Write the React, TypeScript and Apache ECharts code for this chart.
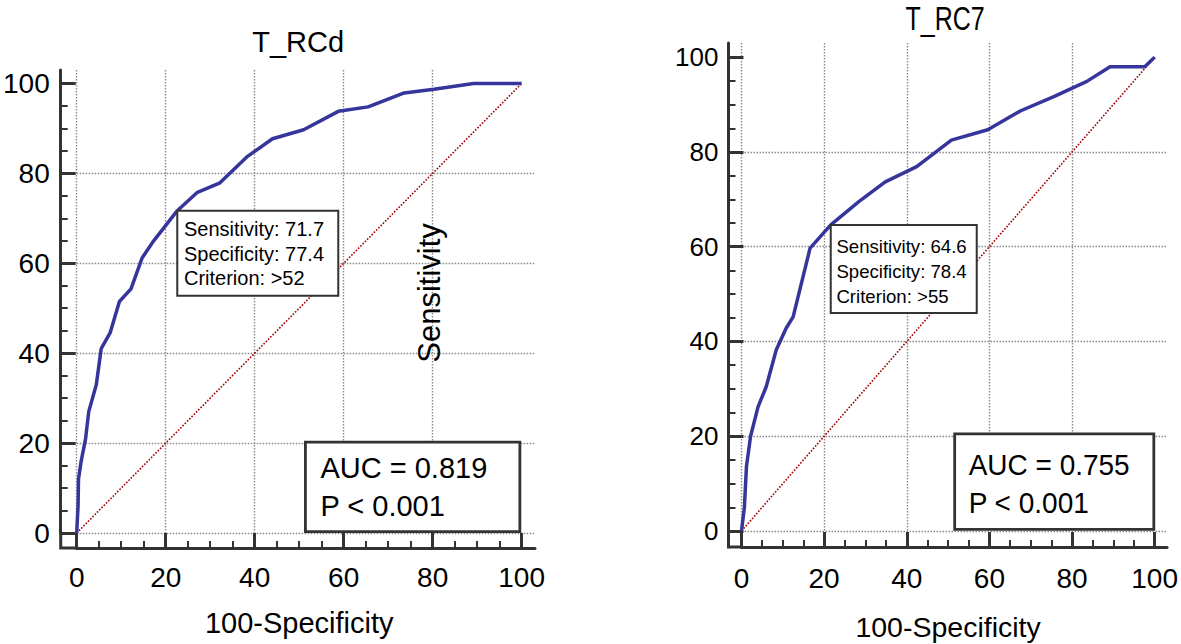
import React, { useEffect, useRef } from "react";
import * as echarts from "echarts";

// ---------- data ----------
const chartTitles = ["T_RCd", "T_RC7"];
const xAxisTitle = "100-Specificity";
const yAxisTitle = "Sensitivity";
const tickValues = [0, 20, 40, 60, 80, 100];

// ROC curve points: [100-Specificity, Sensitivity]
const rocRCd: [number, number][] = [
  [0, 0], [0.3, 6], [0.4, 12], [1, 16], [2, 21], [2.7, 27], [4.4, 33], [5.5, 41],
  [7.5, 44.5], [9.6, 51.5], [12.2, 54.3], [14.7, 61.2], [17.3, 65], [22.6, 71.7],
  [27, 75.7], [32.2, 77.9], [38.4, 83.8], [44, 87.7], [51, 89.7], [58.8, 93.8],
  [65.5, 94.8], [73.6, 97.9], [80.3, 98.7], [89.2, 100], [100, 100],
];
const rocRC7: [number, number][] = [
  [0, 0], [0.7, 5], [1.2, 13.6], [2.2, 20], [4, 26.2], [6, 30.5], [8.4, 38.2],
  [10.8, 42.8], [12.5, 45.2], [16.6, 59.7], [21.6, 64.6], [28.4, 69.5], [34.8, 73.7],
  [42.4, 76.9], [50.8, 82.5], [59.6, 84.7], [67.6, 88.7], [75.6, 91.7], [83.6, 94.9],
  [89.2, 98], [97.6, 98], [100, 100],
];
const diagonal: [number, number][] = [[0, 0], [100, 100]];

const sensitivity = [71.7, 64.6];
const specificity = [77.4, 78.4];
const criterion = [">52", ">55"];
const auc = ["0.819", "0.755"];
const pValue = ["< 0.001", "< 0.001"];

// ---------- layout / style ----------
const FONT = '"Liberation Sans", Arial, Helvetica, sans-serif';
const AXIS_MAX = 103;

const panels = [
  {
    left: 72, top: 70, width: 463, height: 463,
    yOffset: 16, xOffset: 15, yLabelSize: 28, xLabelSize: 28, yMargin: 11, xMargin: 15,
    titleSize: 29, titleScaleY: 1, titleY: 42.2, titleDx: -1,
    nameSize: 29, nameY: 623,
    sensW: 161, sensH: 85, sensPad: 6.7, sensBase: [25.6, 50, 74], sensSize: 20,
    aucX0: 51.4, aucX1: 99.6, aucY0: 0.3, aucY1: 20.2, aucPad: 15, aucBase: [35.7, 73.7], aucSize: 29, aucScaleY: 1,
  },
  {
    left: 741.5, top: 43, width: 428.5, height: 488,
    yOffset: 13, xOffset: 16, yLabelSize: 26, xLabelSize: 28, yMargin: 10, xMargin: 17,
    titleSize: 25, titleScaleY: 1.35, titleY: 18.4, titleDx: -3,
    nameSize: 28.5, nameY: 626.5,
    sensW: 146, sensH: 88, sensPad: 5.7, sensBase: [28.3, 53.3, 78.3], sensSize: 18.6,
    aucX0: 51.6, aucX1: 99.8, aucY0: 0.36, aucY1: 20.5, aucPad: 14, aucBase: [41, 79.3], aucSize: 28, aucScaleY: 1.08,
  },
];

function makeAxis(i: number, offset: number, labelSize: number, margin: number) {
  return {
    type: "value",
    gridIndex: i,
    min: 0,
    max: AXIS_MAX,
    interval: 20,
    offset,
    axisLine: { show: true, onZero: false, lineStyle: { color: "#333", width: 3 } },
    axisTick: {
      show: true, inside: true, length: 15, customValues: tickValues,
      lineStyle: { color: "#333", width: 3 },
    },
    minorTick: { show: true, splitNumber: 4, length: 7, lineStyle: { color: "#333", width: 2 } },
    axisLabel: {
      show: true, customValues: tickValues, fontSize: labelSize, color: "#000",
      fontFamily: FONT, margin,
    },
    splitLine: {
      show: true, showMaxLine: false,
      lineStyle: { color: "#8a8a8a", type: [1.5, 1.5], width: 1.4 },
    },
    minorSplitLine: { show: false },
  };
}

export default function App() {
  const ref = useRef<HTMLDivElement>(null);
  useEffect(() => {
    if (!ref.current) return;
    const chart = echarts.init(ref.current, null, { renderer: "svg" });
    const rocs = [rocRCd, rocRC7];
    const series: any[] = [];
    panels.forEach((_p, i) => {
      series.push({
        type: "line", xAxisIndex: i, yAxisIndex: i, data: diagonal, symbol: "none", silent: true,
        lineStyle: { color: "#a00000", width: 1.6, type: "dotted" }, z: 2,
      });
      series.push({
        type: "line", xAxisIndex: i, yAxisIndex: i, data: rocs[i], symbol: "none", silent: true,
        lineStyle: { color: "#35359c", width: 3.5 }, z: 3,
      });
    });
    chart.setOption({
      animation: false,
      backgroundColor: "#fff",
      grid: panels.map((p) => ({ left: p.left, top: p.top, width: p.width, height: p.height })),
      xAxis: panels.map((p, i) => ({ ...makeAxis(i, p.xOffset, p.xLabelSize, p.xMargin), position: "bottom" })),
      yAxis: panels.map((p, i) => ({ ...makeAxis(i, p.yOffset, p.yLabelSize, p.yMargin), position: "left" })),
      series,
    });

    const graphic: any[] = [];
    panels.forEach((p, i) => {
      const P = (x: number, y: number) => chart.convertToPixel({ gridIndex: i } as any, [x, y]) as number[];
      const [x0, y0] = P(0, 0);
      const [cx] = P(50, 0);
      // title
      graphic.push({
        type: "text", x: cx + p.titleDx, y: p.titleY, scaleY: p.titleScaleY, z: 100,
        style: { text: chartTitles[i], fontSize: p.titleSize, fontFamily: FONT, fill: "#000", align: "center", verticalAlign: "middle" },
      });
      // x axis name
      graphic.push({
        type: "text", x: cx, y: p.nameY, z: 100,
        style: { text: xAxisTitle, fontSize: p.nameSize, fontFamily: FONT, fill: "#000", align: "center", verticalAlign: "middle" },
      });
      // axis corner join
      graphic.push({
        type: "polyline", z: 100,
        shape: { points: [[x0 - p.yOffset, y0], [x0 - p.yOffset, y0 + p.xOffset], [x0, y0 + p.xOffset]] },
        style: { stroke: "#333", lineWidth: 3, fill: "none" },
      });
      // cut-off box
      const [bx, by] = P(100 - specificity[i], sensitivity[i]);
      graphic.push({
        type: "rect", z: 100, shape: { x: bx, y: by, width: p.sensW, height: p.sensH },
        style: { fill: "#fff", stroke: "#333", lineWidth: 2 },
      });
      const sensLines = [
        `Sensitivity: ${sensitivity[i]}`,
        `Specificity: ${specificity[i]}`,
        `Criterion: ${criterion[i]}`,
      ];
      sensLines.forEach((t, k) => {
        graphic.push({
          type: "text", z: 101, x: bx + p.sensPad, y: by + p.sensBase[k] - 0.35 * p.sensSize,
          style: { text: t, fontSize: p.sensSize, fontFamily: FONT, fill: "#000", align: "left", verticalAlign: "middle" },
        });
      });
      // AUC box
      const [ax0, ay0] = P(p.aucX0, p.aucY1);
      const [ax1, ay1] = P(p.aucX1, p.aucY0);
      graphic.push({
        type: "rect", z: 100, shape: { x: ax0, y: ay0, width: ax1 - ax0, height: ay1 - ay0 },
        style: { fill: "#fff", stroke: "#333", lineWidth: 2.8 },
      });
      [`AUC = ${auc[i]}`, `P ${pValue[i]}`].forEach((t, k) => {
        graphic.push({
          type: "text", z: 101, x: ax0 + p.aucPad, y: ay0 + p.aucBase[k] - 0.35 * p.aucSize * p.aucScaleY,
          scaleY: p.aucScaleY,
          style: { text: t, fontSize: p.aucSize, fontFamily: FONT, fill: "#000", align: "left", verticalAlign: "middle" },
        });
      });
    });
    // stray y-axis title between the panels
    graphic.push({
      type: "text", x: 429, y: 293, rotation: Math.PI / 2, z: 100,
      style: { text: yAxisTitle, fontSize: 31, fontFamily: FONT, fill: "#000", align: "center", verticalAlign: "middle" },
    });
    chart.setOption({ graphic });

    return () => chart.dispose();
  }, []);
  return (
    <div
      ref={ref}
      style={{ position: "fixed", left: 0, top: 0, width: 1181, height: 644, background: "#fff" }}
    />
  );
}
